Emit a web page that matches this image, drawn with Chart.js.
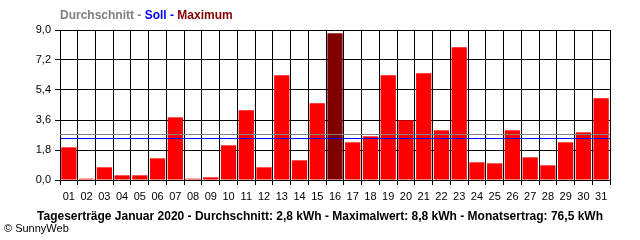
<!DOCTYPE html>
<html>
<head>
<meta charset="utf-8">
<script src="https://cdn.jsdelivr.net/npm/chart.js@4/dist/chart.umd.min.js"></script>
<style>
  html, body { margin: 0; padding: 0; background: #fff; }
  #wrap { width: 640px; height: 240px; position: relative; }
</style>
</head>
<body>
<div id="wrap"><canvas id="chart" width="640" height="240"></canvas></div>
<script>
const days = ['01','02','03','04','05','06','07','08','09','10','11','12','13','14','15','16',
  '17','18','19','20','21','22','23','24','25','26','27','28','29','30','31'];
const dailyYield = [1.96, 0.08, 0.76, 0.28, 0.28, 1.30, 3.76, 0.08, 0.16, 2.08, 4.18, 0.76, 6.28, 1.18, 4.60, 8.80,
  2.26, 2.62, 6.28, 3.58, 6.40, 2.98, 7.96, 1.06, 1.00, 2.98, 1.36, 0.88, 2.26, 2.86, 4.90];
const averageValue = 2.74;
const targetValue = 2.55;
const yMax = 9;
const yStep = 1.8;

const headerParts = [
  { text: 'Durchschnitt - ', color: '#808080' },
  { text: 'Soll - ', color: '#0000ff' },
  { text: 'Maximum', color: '#800000' }
];
const footerText = 'Tageserträge Januar 2020 - Durchschnitt: 2,8 kWh - Maximalwert: 8,8 kWh - Monatsertrag: 76,5 kWh';
const copyrightText = '© SunnyWeb';

const maxValue = Math.max(...dailyYield);
const barColors = dailyYield.map(v => v === maxValue ? '#800000' : '#ff0000');

const fmt = v => Number(v).toFixed(1).replace('.', ',');

// reference lines + texts drawn on top of the bars
const overlayPlugin = {
  id: 'overlay',
  afterDatasetsDraw(chart) {
    const { ctx, chartArea, scales } = chart;
    const drawLine = (value, color) => {
      const y = Math.round(scales.y.getPixelForValue(value)) + 0.5;
      ctx.save();
      ctx.strokeStyle = color;
      ctx.lineWidth = 1;
      ctx.beginPath();
      ctx.moveTo(chartArea.left, y);
      ctx.lineTo(chartArea.right, y);
      ctx.stroke();
      ctx.restore();
    };
    drawLine(averageValue, '#808080');
    drawLine(targetValue, '#0000ff');
  },
  afterDraw(chart) {
    const { ctx } = chart;
    ctx.save();
    ctx.textBaseline = 'middle';

    // header
    ctx.font = 'bold 12px "Liberation Sans", Arial, sans-serif';
    let x = 60;
    headerParts.forEach(part => {
      ctx.fillStyle = part.color;
      ctx.fillText(part.text, x, 16);
      x += ctx.measureText(part.text).width;
    });

    // footer
    ctx.fillStyle = '#000';
    ctx.textAlign = 'center';
    ctx.fillText(footerText, 320, 217);

    ctx.font = '11px "Liberation Sans", Arial, sans-serif';
    ctx.textAlign = 'left';
    ctx.fillText(copyrightText, 4, 229);
    ctx.restore();
  }
};

new Chart(document.getElementById('chart'), {
  type: 'bar',
  data: {
    labels: days,
    datasets: [{
      data: dailyYield,
      backgroundColor: barColors,
      borderWidth: 0,
      barPercentage: 0.86,
      categoryPercentage: 1.0
    }]
  },
  options: {
    responsive: false,
    animation: false,
    events: [],
    layout: { padding: { top: 30, right: 30, left: 0, bottom: 0 } },
    plugins: {
      legend: { display: false },
      title: { display: false },
      tooltip: { enabled: false }
    },
    scales: {
      x: {
        afterFit: s => { s.height = 60; },
        grid: {
          offset: true,
          color: '#000',
          lineWidth: 1,
          tickLength: 5
        },
        border: { color: '#000', width: 1 },
        ticks: {
          color: '#000',
          padding: 5,
          maxRotation: 0,
          autoSkip: false,
          font: { family: '"Liberation Sans", Arial, sans-serif', size: 11 }
        }
      },
      y: {
        min: 0,
        max: yMax,
        afterFit: s => { s.width = 60; },
        grid: {
          color: '#000',
          lineWidth: 1,
          tickLength: 5
        },
        border: { color: '#000', width: 1 },
        ticks: {
          stepSize: yStep,
          color: '#000',
          padding: 4,
          callback: v => fmt(v),
          font: { family: '"Liberation Sans", Arial, sans-serif', size: 11 }
        }
      }
    }
  },
  plugins: [overlayPlugin]
});
</script>
</body>
</html>
